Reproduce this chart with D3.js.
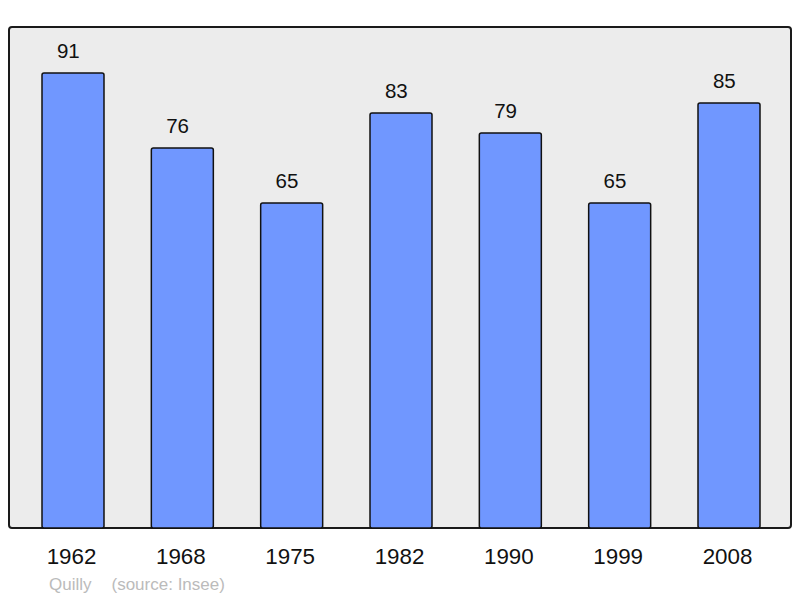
<!DOCTYPE html>
<html><head><meta charset="utf-8">
<script src="https://cdn.jsdelivr.net/npm/d3@7"></script>
<style>body{margin:0;background:#fff}svg{display:block}</style>
</head><body>
<script>
const years = ["1962","1968","1975","1982","1990","1999","2008"];
const population = [91, 76, 65, 83, 79, 65, 85];
const commune = "Quilly";
const source = "(source: Insee)";

const W = 800, H = 598;
const font = "Liberation Sans, Arial, sans-serif";
const svg = d3.select("body").append("svg").attr("width", W).attr("height", H);
const frame = {x0: 9, x1: 791, y0: 27, y1: 528};

svg.append("rect").attr("x", frame.x0).attr("y", frame.y0)
  .attr("width", frame.x1 - frame.x0).attr("height", frame.y1 - frame.y0)
  .attr("rx", 3).attr("fill", "#ececec").attr("stroke", "#1a1a1a").attr("stroke-width", 2);

const x = d3.scalePoint().domain(years).range([73, 729]);
const y = d3.scaleLinear().domain([0, 100.2]).range([frame.y1, frame.y0]);
const bw = 62;

svg.selectAll("rect.bar").data(population).join("rect").attr("class", "bar")
  .attr("x", (d, i) => x(years[i]) - bw / 2).attr("y", d => y(d))
  .attr("width", bw).attr("height", d => y(0) - y(d))
  .attr("rx", 2).attr("fill", "#7097ff").attr("stroke", "#111").attr("stroke-width", 1.5);

svg.selectAll("text.val").data(population).join("text").attr("class", "val")
  .attr("x", (d, i) => x(years[i]) - 4.7).attr("y", d => y(d) - 14.7)
  .attr("text-anchor", "middle").attr("font-family", font)
  .attr("font-size", 20.5).attr("fill", "#111").text(d => d);

svg.selectAll("text.yr").data(years).join("text").attr("class", "yr")
  .attr("transform", d => `translate(${x(d) - 1.5},563.5) scale(1.04,1)`)
  .attr("text-anchor", "middle").attr("font-family", font)
  .attr("font-size", 21.5).attr("fill", "#111").text(d => d);

svg.append("text").attr("x", 49).attr("y", 590).attr("font-family", font)
  .attr("font-size", 17).attr("fill", "#bbb").text(commune);
svg.append("text").attr("x", 111.5).attr("y", 590).attr("font-family", font)
  .attr("font-size", 17).attr("fill", "#bbb").text(source);
</script>
</body></html>
